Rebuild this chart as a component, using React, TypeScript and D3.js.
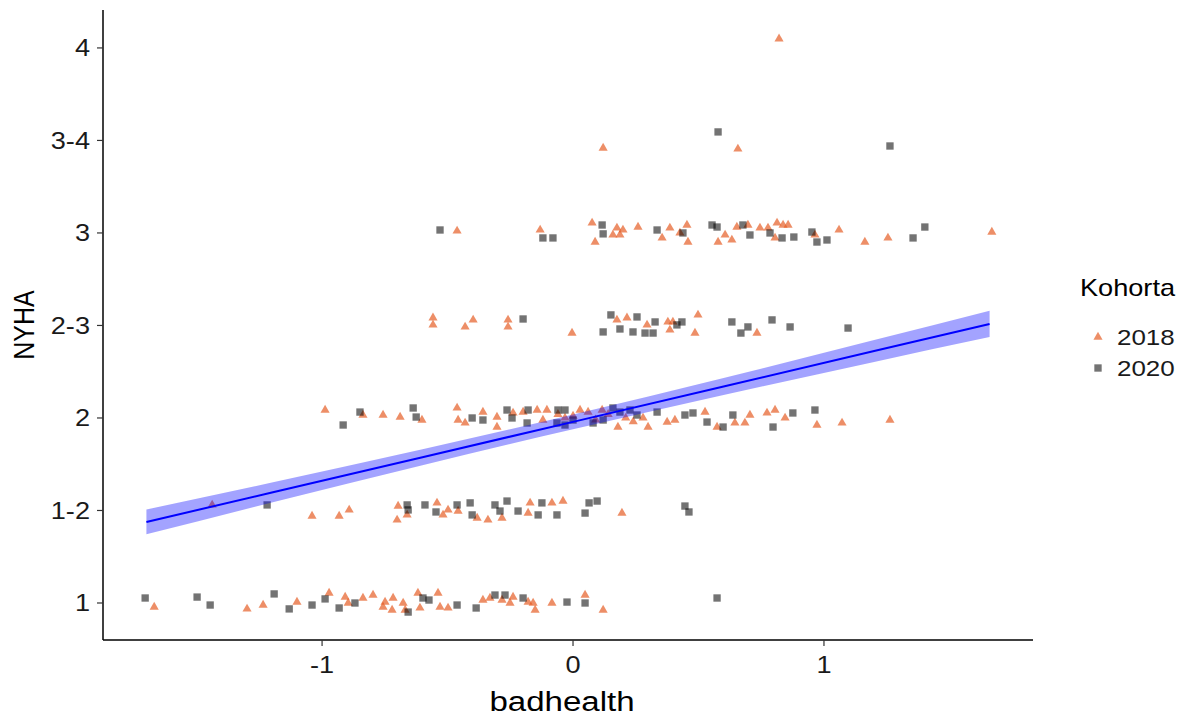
import React from 'react';
import * as d3 from 'd3';

// jittered points: [badhealth, NYHA level (1..4, halves = "1-2" etc)]
const pts2018: [number, number][] = [
  [-1.669, 0.978], [-1.299, 0.968], [-1.235, 0.989], [-1.1, 1.005], [-0.972, 1.054], [-0.908, 1.032],
  [-0.896, 1.0], [-0.837, 1.027], [-0.797, 1.043], [-0.749, 1.005], [-0.757, 0.978], [-0.721, 0.962],
  [-0.717, 1.027], [-0.677, 1.0], [-0.669, 0.962], [-0.618, 1.054], [-0.61, 0.973], [-0.538, 1.054],
  [-0.53, 0.978], [-0.498, 0.973], [-0.359, 1.016], [-0.331, 1.027], [-0.283, 1.016], [-0.239, 1.032],
  [-0.251, 1.0], [-0.179, 1.005], [-0.159, 1.0], [-0.151, 0.962], [-0.084, 1.0], [0.048, 1.043], [0.12, 0.962],
  [-1.438, 1.53], [-1.04, 1.47], [-0.932, 1.47], [-0.892, 1.503], [-0.697, 1.524], [-0.661, 1.476],
  [-0.701, 1.449], [-0.542, 1.541], [-0.518, 1.476], [-0.498, 1.503], [-0.458, 1.497], [-0.382, 1.459],
  [-0.339, 1.449], [-0.283, 1.459], [-0.171, 1.541], [-0.179, 1.486], [-0.084, 1.541], [-0.04, 1.551], [0.195, 1.486],
  [-0.988, 2.043], [-0.837, 2.016], [-0.757, 2.016], [-0.689, 2.005], [-0.602, 1.989], [-0.462, 2.054],
  [-0.458, 1.989], [-0.43, 1.973], [-0.359, 2.032], [-0.303, 1.951], [-0.303, 2.005], [-0.239, 2.027],
  [-0.199, 2.032], [-0.143, 2.043], [-0.104, 2.043], [-0.12, 1.989], [-0.032, 2.0], [0.028, 2.043],
  [0.06, 2.032], [0.116, 2.043], [0.179, 1.951], [0.279, 2.0], [0.299, 1.951], [0.375, 1.978],
  [0.406, 1.989], [0.526, 2.032], [0.574, 1.951], [0.645, 1.973], [0.705, 2.016], [0.685, 1.973],
  [0.773, 2.027], [0.805, 2.043], [0.845, 2.0], [0.972, 1.962], [1.072, 1.973], [1.263, 1.989],
  [0.0, 2.01], [0.09, 1.99], [0.14, 2.02], [0.21, 2.0], [-0.06, 2.02], [0.24, 1.98],
  [-0.558, 2.541], [-0.558, 2.503], [-0.43, 2.492], [-0.398, 2.53], [-0.259, 2.53], [-0.259, 2.492],
  [-0.004, 2.459], [0.175, 2.53], [0.215, 2.541], [0.295, 2.503], [0.378, 2.519], [0.386, 2.476],
  [0.398, 2.519], [0.498, 2.557], [0.486, 2.459], [0.733, 2.459],
  [-0.462, 3.011], [-0.131, 3.016], [0.076, 3.054], [0.088, 2.951], [0.175, 3.027], [0.199, 3.016],
  [0.159, 2.989], [0.187, 2.989], [0.259, 3.032], [0.355, 2.973], [0.386, 3.027], [0.426, 3.0],
  [0.454, 3.043], [0.458, 2.951], [0.578, 2.951], [0.633, 2.962], [0.606, 2.989], [0.653, 3.032],
  [0.697, 3.043], [0.745, 3.027], [0.777, 3.027], [0.813, 3.054], [0.837, 3.043], [0.857, 3.043],
  [0.805, 2.973], [0.964, 2.989], [1.06, 3.016], [1.163, 2.951], [1.255, 2.973], [1.669, 3.005],
  [0.12, 3.459], [0.657, 3.454],
  [0.821, 4.049],
];

const pts2020: [number, number][] = [
  [-1.705, 1.027], [-1.498, 1.032], [-1.446, 0.989], [-1.191, 1.049], [-1.131, 0.968], [-1.04, 0.989],
  [-0.988, 1.022], [-0.932, 0.973], [-0.869, 1.0], [-0.657, 0.951], [-0.598, 1.027], [-0.574, 1.016],
  [-0.462, 0.989], [-0.386, 0.973], [-0.311, 1.043], [-0.271, 1.043], [-0.199, 1.027], [-0.024, 1.005],
  [0.048, 1.0], [0.574, 1.027],
  [-1.219, 1.53], [-0.661, 1.53], [-0.657, 1.503], [-0.59, 1.53], [-0.546, 1.492], [-0.462, 1.53],
  [-0.41, 1.541], [-0.402, 1.476], [-0.311, 1.53], [-0.263, 1.551], [-0.291, 1.497], [-0.219, 1.497],
  [-0.124, 1.541], [-0.139, 1.476], [-0.064, 1.476], [0.048, 1.486], [0.064, 1.541], [0.096, 1.551],
  [0.446, 1.524], [0.462, 1.492],
  [-0.916, 1.962], [-0.849, 2.032], [-0.637, 2.054], [-0.625, 2.005], [-0.402, 2.0], [-0.359, 1.989],
  [-0.263, 2.043], [-0.243, 2.0], [-0.179, 2.043], [-0.183, 1.973], [-0.06, 2.043], [-0.064, 1.973],
  [-0.032, 2.043], [-0.032, 1.962], [0.0, 1.989], [0.08, 1.973], [0.12, 1.989], [0.159, 2.054],
  [0.187, 2.032], [0.227, 2.043], [0.255, 2.016], [0.335, 2.032], [0.446, 2.016], [0.478, 2.027],
  [0.534, 1.978], [0.598, 1.951], [0.637, 2.016], [0.797, 1.951], [0.876, 2.027], [0.964, 2.043],
  [-0.199, 2.535], [0.12, 2.465], [0.151, 2.557], [0.187, 2.481], [0.255, 2.546], [0.239, 2.465],
  [0.287, 2.459], [0.319, 2.459], [0.327, 2.519], [0.414, 2.503], [0.434, 2.519], [0.633, 2.519],
  [0.697, 2.492], [0.669, 2.459], [0.793, 2.53], [0.865, 2.492], [1.096, 2.486],
  [-0.53, 3.016], [-0.12, 2.973], [-0.08, 2.973], [0.116, 3.043], [0.12, 2.995], [0.335, 3.016],
  [0.438, 3.0], [0.554, 3.043], [0.574, 3.032], [0.677, 3.043], [0.705, 2.989], [0.785, 3.0],
  [0.833, 2.973], [0.88, 2.978], [0.952, 3.005], [0.972, 2.951], [1.012, 2.962], [1.355, 2.973],
  [1.402, 3.032],
  [0.578, 3.546], [1.263, 3.47],
];

// linear fit with confidence band
const fitX = [-1.7, -1.2, -0.6, 0, 0.6, 1.2, 1.66];
const fitY = [1.438, 1.597, 1.788, 1.979, 2.17, 2.362, 2.508];
const fitLo = [1.371, 1.543, 1.745, 1.939, 2.124, 2.303, 2.437];
const fitHi = [1.505, 1.651, 1.831, 2.019, 2.216, 2.421, 2.579];

const xTicks = [-1, 0, 1];
const yTicks = [1, 1.5, 2, 2.5, 3, 3.5, 4];
const yTickLabels = ['1', '1-2', '2', '2-3', '3', '3-4', '4'];

const cohorts = ['2018', '2020'];

const W = 1189;
const H = 720;
const FONT = 'Liberation Sans, Arial, sans-serif';
const C2018 = '#E5581F';
const C2020 = '#000000';
const SX = 1.18; // glyphs in the reference are a little wide

export default function App() {
  const x = d3.scaleLinear().domain([-1.873, 1.833]).range([103, 1033]);
  const y = d3.scaleLinear().domain([0.8, 4.205]).range([640, 10]);

  const tri = d3.symbol().type(d3.symbolTriangle).size(36)()!;
  const sq = d3.symbol().type(d3.symbolSquare).size(54)()!;

  const band = d3.area<number>()
    .x((_, i) => x(fitX[i])).y0((_, i) => y(fitLo[i])).y1((_, i) => y(fitHi[i]))
    .curve(d3.curveMonotoneX);
  const line = d3.line<number>()
    .x((_, i) => x(fitX[i])).y((d) => y(d));

  const [x0, x1] = x.range();
  const [yb, yt] = y.range();

  return (
    <svg width={W} height={H} style={{ position: 'absolute', left: 0, top: 0, background: '#fff' }}
      fontFamily={FONT}>
      {/* points */}
      {pts2018.map((p, i) => (
        <path key={`a${i}`} d={tri} transform={`translate(${x(p[0])},${y(p[1])})`}
          fill={C2018} fillOpacity={0.68} />
      ))}
      {pts2020.map((p, i) => (
        <path key={`b${i}`} d={sq} transform={`translate(${x(p[0])},${y(p[1])})`}
          fill={C2020} fillOpacity={0.55} />
      ))}

      {/* smooth */}
      <path d={band(fitX)!} fill="#0000FF" fillOpacity={0.36} />
      <path d={line(fitY)!} fill="none" stroke="#0000FF" strokeWidth={2} />

      {/* axes */}
      <line x1={x0} x2={x1} y1={yb} y2={yb} stroke="#000" strokeWidth={1.5} />
      <line x1={x0} x2={x0} y1={yb} y2={yt} stroke="#000" strokeWidth={1.5} />
      {xTicks.map((t) => (
        <g key={t} transform={`translate(${x(t)},${yb})`}>
          <line y2={6} stroke="#333" strokeWidth={1.2} />
          <text y={33} textAnchor="middle" fontSize={23} fill="#1a1a1a"
            transform={`scale(${SX},1)`}>{t}</text>
        </g>
      ))}
      {yTicks.map((t, i) => (
        <g key={t} transform={`translate(${x0 - 13},${y(t)})`}>
          <line x1={13} x2={7} stroke="#333" strokeWidth={1.2} />
          <text dy="0.36em" textAnchor="end" fontSize={23} fill="#1a1a1a"
            transform={`scale(${SX},1)`}>{yTickLabels[i]}</text>
        </g>
      ))}
      <g transform={`translate(${(x0 + x1) / 2 - 6},711)`}>
        <text textAnchor="middle" fontSize={28} fill="#000" transform={`scale(${SX},1)`}>badhealth</text>
      </g>
      <g transform={`translate(34,${(yb + yt) / 2})`}>
        <text textAnchor="middle" fontSize={25} fill="#000"
          transform={`scale(${SX},1) rotate(-90)`}>NYHA</text>
      </g>

      {/* legend */}
      <g transform="translate(1080,296)">
        <text fontSize={23} fill="#000" transform={`scale(${SX},1)`}>Kohorta</text>
      </g>
      {cohorts.map((c, i) => (
        <g key={c} transform={`translate(1098,${337 + i * 31})`}>
          <path d={i === 0 ? tri : sq} fill={i === 0 ? C2018 : C2020} fillOpacity={i === 0 ? 0.68 : 0.55} />
          <g transform="translate(19,0)">
            <text dy="0.36em" fontSize={22} fill="#1a1a1a" transform={`scale(${SX},1)`}>{c}</text>
          </g>
        </g>
      ))}
    </svg>
  );
}
